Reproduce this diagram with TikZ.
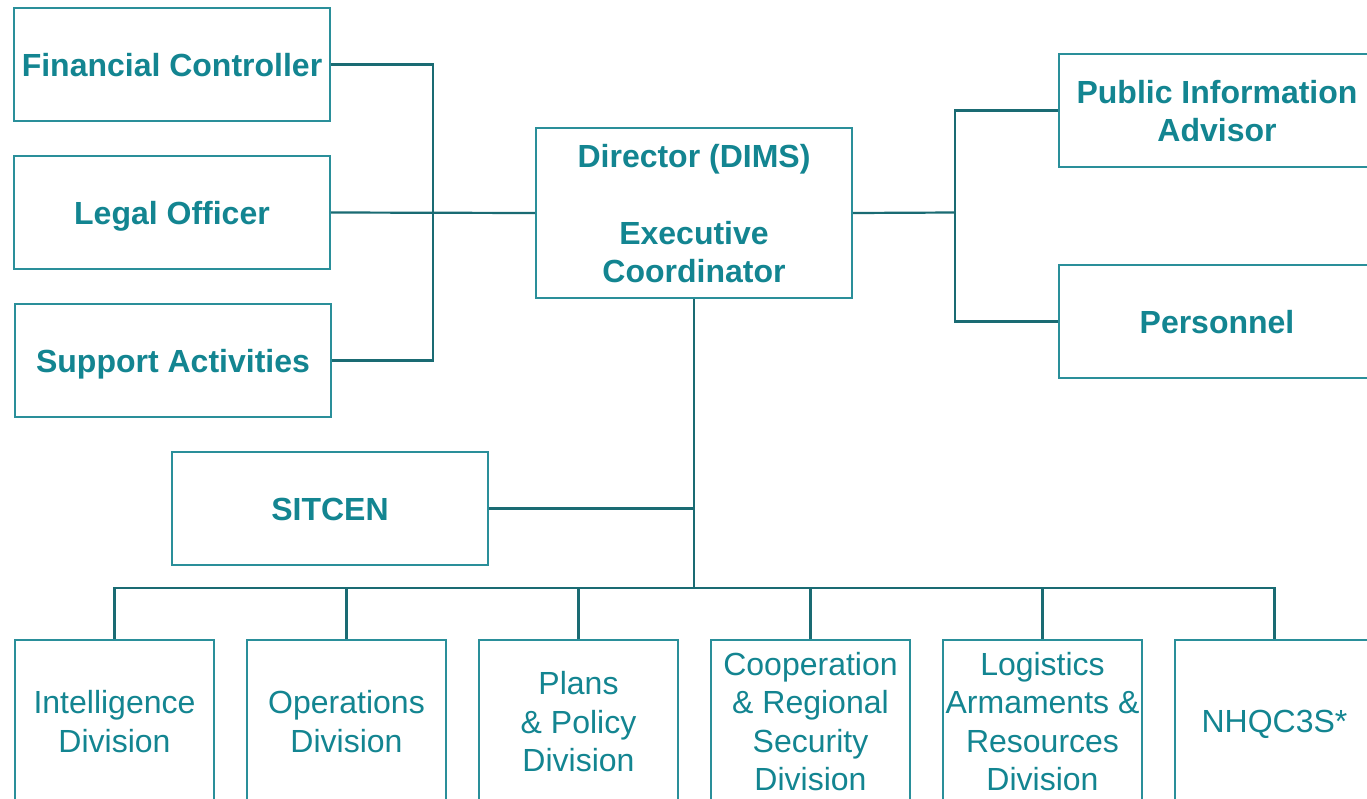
\documentclass[tikz,border=0pt]{standalone}
\usepackage{fontspec}
\setmainfont{Liberation Sans}
\definecolor{tealtext}{HTML}{138591}
\definecolor{tealbox}{HTML}{2A8F9A}
\definecolor{tealline}{HTML}{1A6B73}
\newcommand\topstrut{\rule{0pt}{30.5pt}}
\newcommand\firststrut{\rule{0pt}{31pt}}
\newcommand\botstrut{\rule[-6.8pt]{0pt}{0pt}}
\begin{document}
\begin{tikzpicture}[x=1pt,y=-1pt,
  box/.style={draw=tealbox, line width=2pt, fill=white, rectangle, inner sep=0pt,
    align=center, text=tealtext,
    execute at begin node=\topstrut, execute at end node=\botstrut},
  topbox/.style={box, minimum width=316pt, minimum height=113pt,
    font=\fontsize{32}{38.5}\selectfont\bfseries},
  divbox/.style={box, minimum width=199pt, minimum height=162pt,
    font=\fontsize{32}{38.5}\selectfont},
  link/.style={draw=tealline, line width=2.2pt}]
\clip (0,0) rectangle (1367,798);
\fill[white] (0,0) rectangle (1367,798);
% top-left boxes
\node[topbox] (fc) at (172,64.5) {Financial Controller};
\node[topbox] (lo) at (172,212.5) {Legal Officer};
\node[topbox] (sa) at (173,360.5) {Support Activities};
% director
\node[topbox, minimum height=170pt] (dir) at (694,213) {\firststrut Director (DIMS)\\[38.5pt]Executive\\Coordinator};
% right boxes
\node[topbox] (pia) at (1217,110.5) {\firststrut Public Information\\Advisor};
\node[topbox] (pers) at (1217,321.5) {Personnel};
% SITCEN
\node[topbox] (sit) at (330,508.5) {SITCEN};
% divisions
\node[divbox] (d1) at (114.5,721) {\firststrut Intelligence\\Division};
\node[divbox] (d2) at (346.5,721) {\firststrut Operations\\Division};
\node[divbox] (d3) at (578.5,721) {\firststrut Plans\\\& Policy\\Division};
\node[divbox] (d4) at (810.5,721) {\firststrut Cooperation\\\& Regional\\Security\\Division};
\node[divbox] (d5) at (1042.5,721) {\firststrut Logistics\\Armaments \&\\Resources\\Division};
\node[divbox] (d6) at (1274.5,721) {NHQC3S*};
% bus coordinates
\coordinate (lb) at (433,212.5);
\coordinate (rb) at (955,212.5);
\coordinate (bb) at (694,588);
% connectors
\draw[link] (fc.east) -| (lb) |- (sa.east);
\draw[link] (lo.east) -- (dir.west);
\draw[link] (dir.east) -- (rb);
\draw[link] (pia.west) -| (rb) |- (pers.west);
\draw[link] (dir.south) -- (bb);
\draw[link] (sit.east) -- (sit.east -| bb);
\draw[link] (d1.north) |- (bb) -| (d6.north);
\draw[link] (d2.north) -- (d2.north |- bb);
\draw[link] (d3.north) -- (d3.north |- bb);
\draw[link] (d4.north) -- (d4.north |- bb);
\draw[link] (d5.north) -- (d5.north |- bb);
\end{tikzpicture}
\end{document}
